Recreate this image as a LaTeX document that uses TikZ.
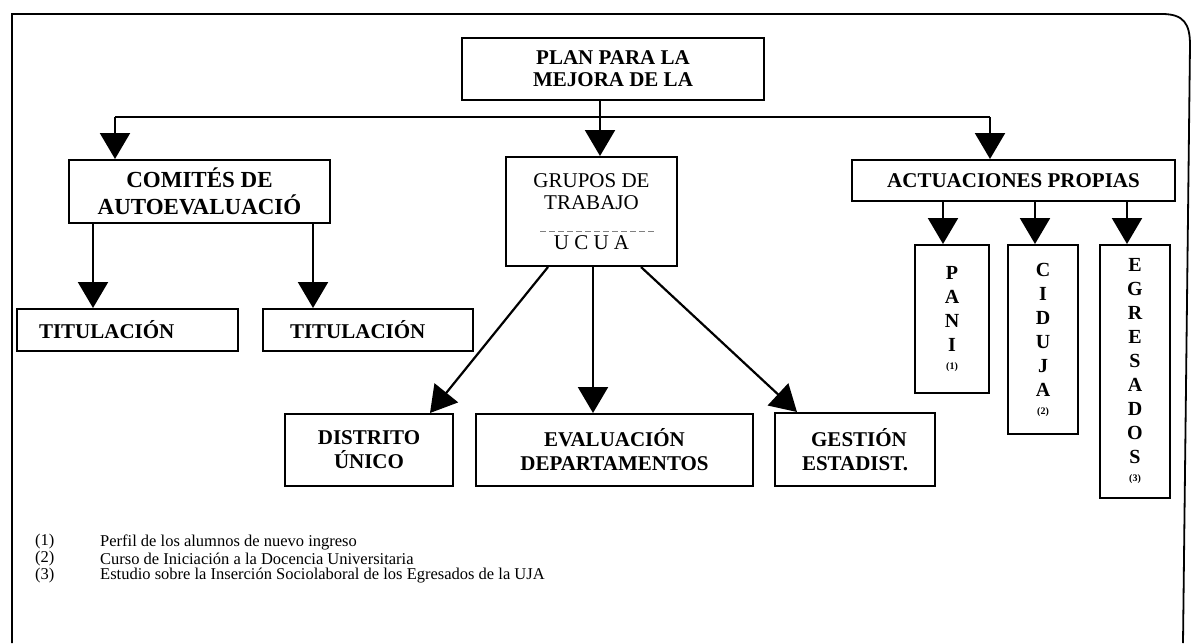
\documentclass[tikz,border=0pt]{standalone}
\usepackage{fontspec}
\setmainfont{Liberation Serif}
\usetikzlibrary{arrows.meta,calc}
\begin{document}
\begin{tikzpicture}[x=1pt,y=-1pt,
  box/.style={draw, line width=2pt, inner sep=0pt, align=center, font=\fontsize{21}{24}\selectfont\bfseries},
  plainbox/.style={box, font=\fontsize{21}{22}\selectfont},
  vbox/.style={box, font=\fontsize{20}{24}\selectfont\bfseries},
  titbox/.style={box, minimum height=42pt, align=left},
  conn/.style={line width=2.2pt},
  arr/.style={conn, -{Triangle[length=26pt,width=30pt]}},
  note/.style={anchor=west, inner sep=0pt, font=\fontsize{16.5}{17}\selectfont}]
\useasboundingbox (0,0) rectangle (1192,643);
% outer frame
\draw[line width=1.8pt] (12,643) -- (12,14) -- (1162,14) .. controls (1184,14) and (1190,24) .. (1190,45) -- (1183,643);

% nodes
\node[box, minimum width=302pt, minimum height=62pt, font=\fontsize{21}{22}\selectfont\bfseries] (plan) at (613,69) {PLAN PARA LA\\MEJORA DE LA};
\node[box, minimum width=261pt, minimum height=63pt, font=\fontsize{23}{27}\selectfont\bfseries] (comites) at (199.5,191.5) {COMITÉS DE\\AUTOEVALUACIÓ};
\node[plainbox, minimum width=171pt, minimum height=109pt] (grupos) at (591.5,211.5) {GRUPOS DE\\TRABAJO\\[18pt]U C U A};
\node[box, minimum width=323pt, minimum height=41pt] (actua) at (1013.5,180.5) {ACTUACIONES PROPIAS};
\node[titbox, inner xsep=22pt, text width=177pt] (tit1) at (127.5,330) {TITULACIÓN};
\node[titbox, inner xsep=27pt, text width=156pt] (tit2) at (368,330) {TITULACIÓN};
\node[box, minimum width=168pt, minimum height=72pt] (distrito) at (369,450) {DISTRITO\\ÚNICO};
\node[box, minimum width=277pt, minimum height=72pt] (evalua) at (614.5,450) {EVALUACIÓN\\DEPARTAMENTOS};
\node[box, minimum width=160pt, minimum height=73pt] (gestion) at (855,449.5) {\hspace*{8pt}GESTIÓN\\ESTADIST.};
\node[vbox, minimum width=74pt, minimum height=148pt] (pani) at (952,319) {P\\A\\N\\I\\[-6pt]{\fontsize{10}{10}\selectfont (1)}};
\node[vbox, minimum width=70pt, minimum height=189pt] (ciduja) at (1043,339.5) {C\\I\\D\\U\\J\\A\\[-6pt]{\fontsize{10}{10}\selectfont (2)}};
\node[vbox, minimum width=70pt, minimum height=253pt] (egres) at (1135,371.5) {E\\G\\R\\E\\S\\A\\D\\O\\S\\[-6pt]{\fontsize{10}{10}\selectfont (3)}};

% dashed separator in GRUPOS
\draw[gray, line width=1pt, dash pattern=on 6pt off 3pt] ($(grupos.center)+(-51.5,19.5)$) -- ($(grupos.center)+(63.5,19.5)$);

% junction coordinates
\coordinate (jc) at (600,117);
\coordinate (jl) at (115,117);
\coordinate (jr) at (990,117);
\coordinate (xa) at (93,0);
\coordinate (xb) at (313,0);
\coordinate (gd1) at (548,0);
\coordinate (td1) at (430,0);
\coordinate (gd2) at (593,0);
\coordinate (gd3) at (641,0);
\coordinate (td3) at (797,0);
\coordinate (xp) at (943,0);
\coordinate (xc) at (1035,0);
\coordinate (xe) at (1127,0);

\draw[conn] (plan.south -| jc) -- (jc);
\draw[conn] (jl) -- (jr);
\draw[arr] (jl) -- (comites.north -| jl);
\draw[arr] (jc) -- (grupos.north -| jc);
\draw[arr] (jr) -- (actua.north -| jr);

\draw[arr] (comites.south -| xa) -- (tit1.north -| xa);
\draw[arr] (comites.south -| xb) -- (tit2.north -| xb);

\draw[arr] (grupos.south -| gd1) -- (distrito.north -| td1);
\draw[arr] (grupos.south -| gd2) -- (evalua.north -| gd2);
\draw[arr] (grupos.south -| gd3) -- (gestion.north -| td3);

\draw[arr] (actua.south -| xp) -- (pani.north -| xp);
\draw[arr] (actua.south -| xc) -- (ciduja.north -| xc);
\draw[arr] (actua.south -| xe) -- (egres.north -| xe);

% footnotes
\node[note] (n1) at (35,542) {(1)};
\node[note] (t1) at (100,542) {Perfil de los alumnos de nuevo ingreso};
\node[note] (n2) at (35,559) {(2)};
\node[note] (t2) at (100,559) {Curso de Iniciación a la Docencia Universitaria};
\node[note] (n3) at (35,576) {(3)};
\node[note] (t3) at (100,576) {Estudio sobre la Inserción Sociolaboral de los Egresados de la UJA};
\end{tikzpicture}
\end{document}
